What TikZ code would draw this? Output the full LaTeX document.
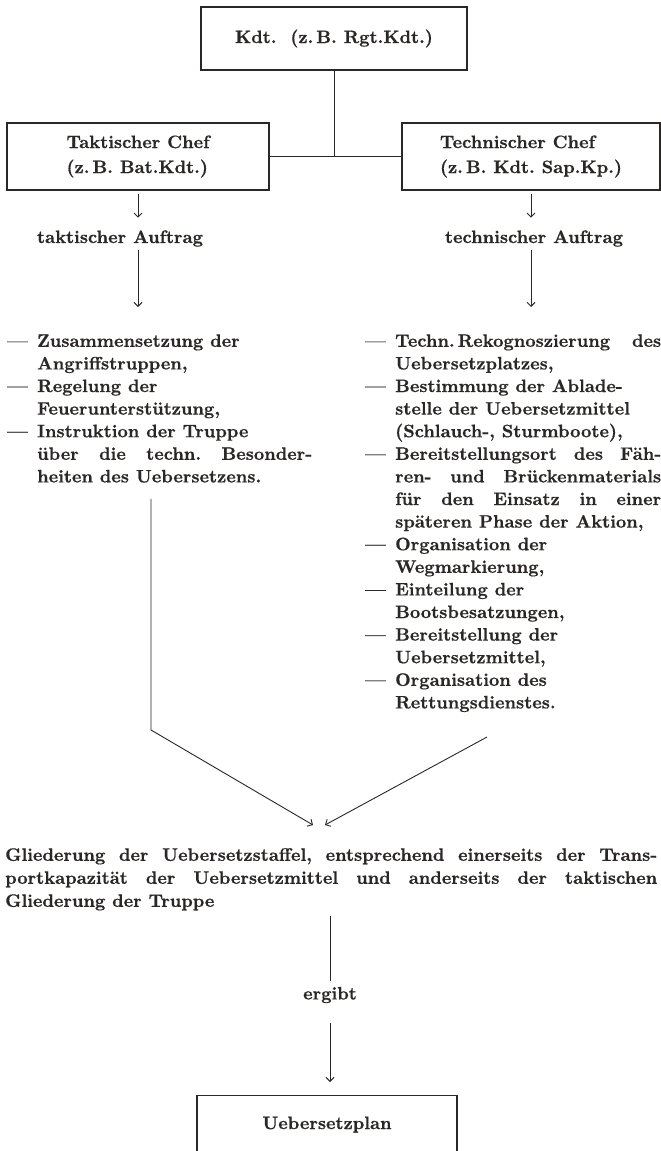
\documentclass[tikz,border=0pt]{standalone}
\usepackage{fontspec}
\setmainfont{lmroman10-regular.otf}[BoldFont=lmroman10-bold.otf, BoldFeatures={FakeBold=0.6}]
\usepackage{tikz}
\usetikzlibrary{positioning,arrows.meta,calc}
\definecolor{ink}{HTML}{2A2726}
\newcommand\strich{\par\noindent\hangindent=30pt\hangafter=1\makebox[30pt][l]{---}}
\tikzset{
  >={Straight Barb[length=4pt,width=8pt]},
  every node/.style={font=\fontsize{18}{22.6}\selectfont\bfseries\frenchspacing, text=ink},
  % --- nodes
  kasten/.style = {draw=ink, line width=1.1pt, inner sep=0pt, align=left,
                   font=\fontsize{18}{25}\selectfont\bfseries\frenchspacing},
  txt/.style    = {inner sep=0pt, align=center},
  liste/.style  = {inner sep=0pt, align=justify, anchor=north west},
  absatz/.style = {liste, font=\fontsize{18}{23}\selectfont\bfseries\frenchspacing},
  % --- edges
  e/.style      = {draw=ink, line width=0.9pt},
  ea/.style     = {e, ->},
}
\begin{document}
\begin{tikzpicture}[x=1pt,y=1pt]
  \fill[white] (0,0) rectangle (661,-1151);
  \useasboundingbox (0,0) rectangle (661,-1151);
  % boxes
  \node[kasten, minimum width=266pt, minimum height=63pt] (kdt) at (334,-38.5) {Kdt.\ \ (z.\,B. Rgt.Kdt.)};
  \node[kasten, minimum width=262pt, minimum height=67pt] (tak) at (138,-156.5) {Taktischer Chef\\(z.\,B. Bat.Kdt.)};
  \node[kasten, minimum width=258pt, minimum height=67pt] (tech) at (531,-156.5) {Technischer Chef\\(z.\,B. Kdt. Sap.Kp.)};
  \node[txt] (takauf) at (120,-238.5) {taktischer Auftrag};
  \node[txt] (techauf) at (534,-238.5) {technischer Auftrag};
  % lists
  \node[liste, text width=305pt] (taklist) at (7,-324) {%
    \strich Zusammensetzung der\newline Angriffstruppen,
    \strich Regelung der\newline Feuerunterstützung,
    \strich Instruktion der Truppe\newline über die techn. Besonder-\linebreak heiten des Uebersetzens.\par};
  \node[liste, text width=296pt] (techlist) at (365,-324) {%
    \strich Techn.\,Rekognoszierung des\linebreak Uebersetzplatzes,
    \strich Bestimmung der Ablade-\newline stelle der Uebersetzmittel\newline (Schlauch-, Sturmboote),
    \strich Bereitstellungsort des Fäh-\linebreak ren- und Brückenmaterials\linebreak für den Einsatz in einer\linebreak späteren Phase der Aktion,
    \strich Organisation der\newline Wegmarkierung,
    \strich Einteilung der\newline Bootsbesatzungen,
    \strich Bereitstellung der\newline Uebersetzmittel,
    \strich Organisation des\newline Rettungsdienstes.\par};
  \node[absatz, text width=652pt] (glied) at (5,-848) {%
    \noindent Gliederung der Uebersetzstaffel, entsprechend einerseits der Trans-\linebreak portkapazität der Uebersetzmittel und anderseits der taktischen\linebreak Gliederung der Truppe\par};
  \node[txt] (ergibt) at (330,-995) {ergibt};
  \node[kasten, minimum width=260pt, minimum height=58pt, anchor=north] (plan) at (327,-1095) {Uebersetzplan};
  \coordinate (knick) at (151,-730);
  \coordinate (spitzeL) at (313,-825);
  \coordinate (spitzeR) at (325,-825);
  \coordinate (startR) at (487,-737);
  % connectors
  \draw[e] (kdt.south) -- (kdt.south |- tak.east); \draw[e] (tak.east) -- (tech.west);
  \draw[ea, shorten <=3pt, shorten >=12.5pt] (tak.south) -- (tak.south |- takauf.north);
  \draw[ea, shorten <=3.5pt, shorten >=17pt] (tak.south |- takauf.south) -- (tak.south |- taklist.north);
  \draw[ea, shorten <=3pt, shorten >=12.5pt] (tech.south) -- (tech.south |- techauf.north);
  \draw[ea, shorten <=3.5pt, shorten >=17pt] (tech.south |- techauf.south) -- (tech.south |- techlist.north);
  \draw[ea, shorten <=16pt] (knick |- taklist.south) -- (knick) -- (spitzeL);
  \draw[ea] (startR) -- (spitzeR);
  \draw[e, shorten <=5.5pt, shorten >=5.5pt] (glied.south -| ergibt) -- (ergibt.north);
  \draw[ea, shorten <=19.5pt, shorten >=13pt] (ergibt.south) -- (plan.north -| ergibt);
\end{tikzpicture}
\end{document}
